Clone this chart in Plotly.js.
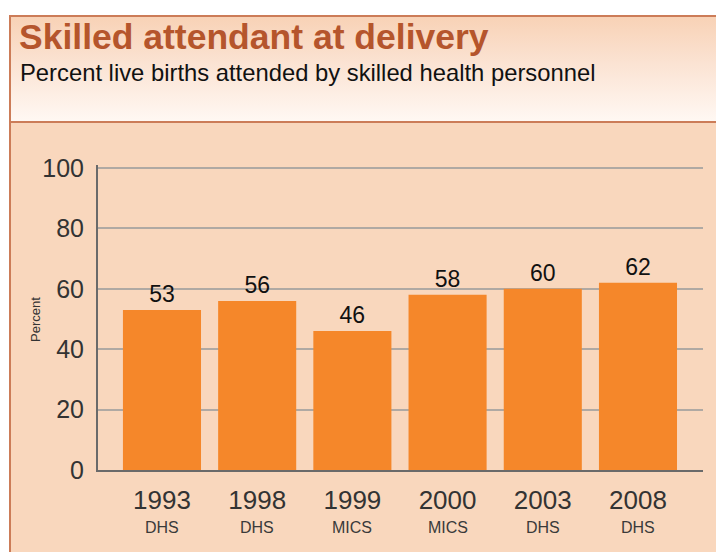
<!DOCTYPE html>
<html>
<head>
<meta charset="utf-8">
<script src="https://cdn.plot.ly/plotly-3.0.1.min.js"></script>
<style>
  html, body { margin: 0; padding: 0; background: #ffffff; }
  #wrap { position: relative; width: 716px; height: 552px; overflow: hidden; background: #ffffff; }
  #box { position: absolute; left: 9px; top: 15px; width: 760px; height: 560px;
         border-left: 2px solid #cc7c58; border-top: 2px solid #cc7c58; background: #f9d7bd; }
  #head { position: absolute; left: 0; top: 0; width: 100%; height: 104px;
          background: linear-gradient(to bottom, #f8d2b6 0%, #fbe3d3 45%, #fff8f3 100%);
          border-bottom: 2px solid #cc7c58; }
  #chart { position: absolute; left: 0; top: 0; width: 716px; height: 552px; }
</style>
</head>
<body>
<div id="wrap">
  <div id="box"><div id="head"></div></div>
  <div id="chart"></div>
</div>
<script>
const years = ["1993", "1998", "1999", "2000", "2003", "2008"];
const sources = ["DHS", "DHS", "MICS", "MICS", "DHS", "DHS"];
const values = [53, 56, 46, 58, 60, 62];
const yTicks = [0, 20, 40, 60, 80, 100];

const W = 716, H = 552;
const mL = 98, mR = 13, mT = 165, mB = 82;
const pw = W - mL - mR, ph = H - mT - mB;
const px = x => (x - mL) / pw;
const py = y => (H - mB - y) / ph;
const FONT = "Liberation Sans, Arial, sans-serif";

const trace = {
  type: "bar",
  x: years.map((_, i) => i),
  y: values,
  text: values.map(String),
  textposition: "outside",
  textfont: { family: FONT, size: 23, color: "#111111" },
  cliponaxis: false,
  marker: { color: "#f5872a", line: { width: 0 } },
  hoverinfo: "skip"
};

const sourceNotes = sources.map((s, i) => ({
  text: s, xref: "x", yref: "paper",
  x: i, y: py(527.5), xanchor: "center", yanchor: "middle",
  showarrow: false,
  font: { family: FONT, size: 16, color: "#3a3a3a" }
}));

const layout = {
  width: W, height: H,
  margin: { l: mL, r: mR, t: mT, b: mB, pad: 0 },
  paper_bgcolor: "rgba(0,0,0,0)",
  plot_bgcolor: "rgba(0,0,0,0)",
  showlegend: false,
  bargap: 0.18,
  font: { family: FONT, color: "#333333" },
  title: {
    text: "<b>Skilled attendant at delivery</b>",
    font: { family: FONT, size: 35.5, color: "#b5552c" },
    xref: "container", yref: "container",
    x: 19 / W, xanchor: "left",
    y: 1 - 37 / H, yanchor: "middle"
  },
  xaxis: {
    range: [-0.672, 5.683],
    tickmode: "array",
    tickvals: years.map((_, i) => i),
    ticktext: years,
    tickfont: { size: 26, color: "#333333" },
    ticks: "",
    showgrid: false,
    showline: true, linecolor: "#6a6a6a", linewidth: 2,
    zeroline: false,
    ticklabelstandoff: 6,
    fixedrange: true
  },
  yaxis: {
    range: [0, 101],
    tickmode: "array",
    tickvals: yTicks,
    ticktext: yTicks.map(String),
    tickfont: { size: 25, color: "#333333" },
    ticks: "",
    ticklabelstandoff: 7,
    showgrid: true, gridcolor: "#b0a9a3", gridwidth: 2,
    showline: true, linecolor: "#6a6a6a", linewidth: 2,
    zeroline: false,
    fixedrange: true
  },
  annotations: [
    {
      text: "Percent live births attended by skilled health personnel",
      xref: "paper", yref: "paper",
      x: px(18), y: py(73), xanchor: "left", yanchor: "middle",
      showarrow: false,
      font: { family: FONT, size: 23.8, color: "#111111" }
    },
    {
      text: "Percent",
      xref: "paper", yref: "paper",
      x: px(35), y: py(320), xanchor: "center", yanchor: "middle",
      textangle: -90, showarrow: false,
      font: { family: FONT, size: 13, color: "#333333" }
    }
  ].concat(sourceNotes)
};

Plotly.newPlot("chart", [trace], layout, { displayModeBar: false, staticPlot: true });
</script>
</body>
</html>
